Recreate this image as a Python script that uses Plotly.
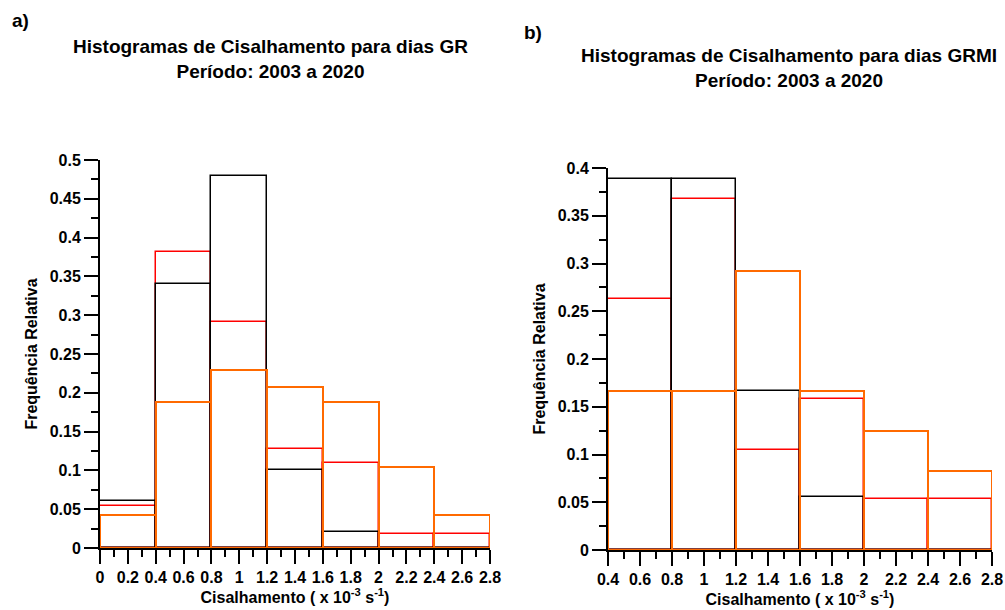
import plotly.graph_objects as go

# bin left edges (x 10^-3 s^-1), bins are 0.4 wide
bins_a = [0.0, 0.4, 0.8, 1.2, 1.6, 2.0, 2.4]
bins_b = [0.4, 0.8, 1.2, 1.6, 2.0, 2.4]

# relative frequencies, panel a (GR days)
preto_a = [0.06, 0.34, 0.48, 0.10, 0.02, 0.0, 0.0]
vermelho_a = [0.054, 0.382, 0.291, 0.127, 0.109, 0.018, 0.018]
laranja_a = [0.042, 0.188, 0.229, 0.208, 0.188, 0.104, 0.042]

# relative frequencies, panel b (GRMI days)
preto_b = [0.389, 0.389, 0.167, 0.056, 0.0, 0.0]
vermelho_b = [0.263, 0.368, 0.105, 0.158, 0.053, 0.053]
laranja_b = [0.167, 0.167, 0.292, 0.167, 0.125, 0.083]

BIN_W = 0.4
FONT = "Liberation Sans, Arial, sans-serif"
W, H = 1005, 610

# positions below are in window pixels (body margin is removed in out.html)
def px_x(x):
    return x / W

def px_y(y):
    return 1 - y / H

fig = go.Figure()

def add_hist(x, y, color, lw, xa, ya):
    fig.add_trace(go.Bar(
        x=x, y=y, width=BIN_W, offset=0,
        marker=dict(color="rgba(0,0,0,0)", line=dict(color=color, width=lw)),
        xaxis=xa, yaxis=ya, cliponaxis=False, showlegend=False,
    ))

# draw order: red, black, orange on top
add_hist(bins_a, vermelho_a, "#FF0000", 1.5, "x", "y")
add_hist(bins_a, preto_a, "#000000", 1.5, "x", "y")
add_hist(bins_a, laranja_a, "#FF6A00", 2, "x", "y")
add_hist(bins_b, vermelho_b, "#FF0000", 1.5, "x2", "y2")
add_hist(bins_b, preto_b, "#000000", 1.5, "x2", "y2")
add_hist(bins_b, laranja_b, "#FF6A00", 2, "x2", "y2")

tickfont = dict(family=FONT, size=16, color="black", weight="bold")
titlefont = dict(family=FONT, size=16, color="black", weight="bold")

xcommon = dict(
    showline=True, linecolor="black", linewidth=2, showgrid=False, zeroline=False,
    ticks="outside", ticklen=14, tickwidth=2, tickcolor="black", dtick=0.2,
    minor=dict(ticks="outside", ticklen=7, tickwidth=2, tickcolor="black", dtick=0.1, showgrid=False),
    tickfont=tickfont, layer="below traces", automargin=False,
    title=dict(text="Cisalhamento ( x 10<sup>-3</sup> s<sup>-1</sup>)", font=titlefont, standoff=3),
)
ycommon = dict(
    showline=True, linecolor="black", linewidth=2, showgrid=False, zeroline=False,
    ticks="outside", ticklen=14, tickwidth=2, tickcolor="black", dtick=0.05,
    minor=dict(ticks="outside", ticklen=7, tickwidth=2, tickcolor="black", dtick=0.025, showgrid=False),
    tickfont=tickfont, layer="below traces", automargin=False,
    title=dict(text="Frequência Relativa", font=titlefont, standoff=8),
)

fig.update_layout(
    width=W, height=H,
    margin=dict(l=0, r=0, t=0, b=0),
    paper_bgcolor="white", plot_bgcolor="white",
    barmode="overlay", bargap=0,
    font=dict(family=FONT, color="black"),
    xaxis=dict(xcommon, domain=[px_x(100), px_x(490)], range=[0, 2.8], anchor="y"),
    yaxis=dict(ycommon, domain=[px_y(548), px_y(160)], range=[0, 0.5], anchor="x"),
    xaxis2=dict(xcommon, domain=[px_x(608), px_x(992)], range=[0.4, 2.8], anchor="y2"),
    yaxis2=dict(ycommon, domain=[px_y(550), px_y(168)], range=[0, 0.4], anchor="x2"),
)

ann_font = dict(family=FONT, size=19, color="black", weight="bold")
fig.add_annotation(text="a)", x=px_x(10), y=px_y(20), xref="paper", yref="paper",
                   xanchor="left", yanchor="middle", showarrow=False, font=ann_font)
fig.add_annotation(text="b)", x=px_x(522), y=px_y(32), xref="paper", yref="paper",
                   xanchor="left", yanchor="middle", showarrow=False, font=ann_font)
fig.add_annotation(text="Histogramas de Cisalhamento para dias GR<br>Período: 2003 a 2020",
                   x=px_x(270), y=px_y(59), xref="paper", yref="paper",
                   xanchor="center", yanchor="middle", showarrow=False, font=ann_font)
fig.add_annotation(text="Histogramas de Cisalhamento para dias GRMI<br>Período: 2003 a 2020",
                   x=px_x(789), y=px_y(68), xref="paper", yref="paper",
                   xanchor="center", yanchor="middle", showarrow=False, font=ann_font)

fig.write_html("out.html", config={"displayModeBar": False},
               post_script="document.body.style.margin='0';document.body.style.overflow='hidden';")
